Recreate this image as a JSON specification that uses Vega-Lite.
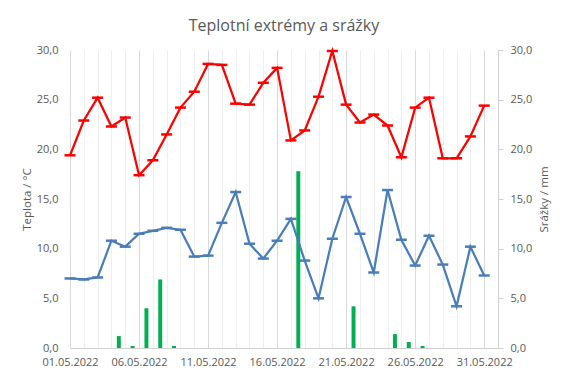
{
  "$schema": "https://vega.github.io/schema/vega-lite/v6.json",
  "width": 428,
  "height": 298,
  "autosize": {"type": "none"},
  "padding": {"left": 70, "top": 50, "right": 70, "bottom": 31},
  "title": {"text": "Teplotní extrémy a srážky", "fontSize": 16, "font": "Open Sans", "fontWeight": "normal", "color": "#595959", "anchor": "middle", "offset": -3, "baseline": "alphabetic"},
  "config": {
    "view": {"stroke": null},
    "font": "Open Sans",
    "axis": {"labelFont": "Open Sans", "labelFontSize": 11, "labelColor": "#595959", "titleFont": "Open Sans", "titleFontSize": 11.5, "titleFontWeight": "normal", "titleColor": "#595959", "domainColor": "#D0D0D0", "tickColor": "#D0D0D0", "labelOverlap": false, "labelFlush": false}
  },
  "data": {"values": [
    {"datum": "2022-05-01T00:00:00", "tmax": 19.4, "tmin": 7.0, "srazky": 0},
    {"datum": "2022-05-02T00:00:00", "tmax": 22.9, "tmin": 6.9, "srazky": 0},
    {"datum": "2022-05-03T00:00:00", "tmax": 25.2, "tmin": 7.1, "srazky": 0},
    {"datum": "2022-05-04T00:00:00", "tmax": 22.3, "tmin": 10.8, "srazky": 1.2},
    {"datum": "2022-05-05T00:00:00", "tmax": 23.2, "tmin": 10.2, "srazky": 0.2},
    {"datum": "2022-05-06T00:00:00", "tmax": 17.4, "tmin": 11.5, "srazky": 4.0},
    {"datum": "2022-05-07T00:00:00", "tmax": 18.9, "tmin": 11.8, "srazky": 6.9},
    {"datum": "2022-05-08T00:00:00", "tmax": 21.5, "tmin": 12.1, "srazky": 0.2},
    {"datum": "2022-05-09T00:00:00", "tmax": 24.2, "tmin": 11.9, "srazky": 0},
    {"datum": "2022-05-10T00:00:00", "tmax": 25.8, "tmin": 9.2, "srazky": 0},
    {"datum": "2022-05-11T00:00:00", "tmax": 28.6, "tmin": 9.3, "srazky": 0},
    {"datum": "2022-05-12T00:00:00", "tmax": 28.5, "tmin": 12.6, "srazky": 0},
    {"datum": "2022-05-13T00:00:00", "tmax": 24.6, "tmin": 15.7, "srazky": 0},
    {"datum": "2022-05-14T00:00:00", "tmax": 24.5, "tmin": 10.5, "srazky": 0},
    {"datum": "2022-05-15T00:00:00", "tmax": 26.7, "tmin": 9.0, "srazky": 0},
    {"datum": "2022-05-16T00:00:00", "tmax": 28.2, "tmin": 10.8, "srazky": 0},
    {"datum": "2022-05-17T00:00:00", "tmax": 20.9, "tmin": 13.0, "srazky": 17.8},
    {"datum": "2022-05-18T00:00:00", "tmax": 21.9, "tmin": 8.8, "srazky": 0},
    {"datum": "2022-05-19T00:00:00", "tmax": 25.3, "tmin": 5.0, "srazky": 0},
    {"datum": "2022-05-20T00:00:00", "tmax": 29.9, "tmin": 11.0, "srazky": 0},
    {"datum": "2022-05-21T00:00:00", "tmax": 24.5, "tmin": 15.2, "srazky": 4.2},
    {"datum": "2022-05-22T00:00:00", "tmax": 22.7, "tmin": 11.5, "srazky": 0},
    {"datum": "2022-05-23T00:00:00", "tmax": 23.5, "tmin": 7.6, "srazky": 0},
    {"datum": "2022-05-24T00:00:00", "tmax": 22.4, "tmin": 15.9, "srazky": 1.4},
    {"datum": "2022-05-25T00:00:00", "tmax": 19.2, "tmin": 10.9, "srazky": 0.6},
    {"datum": "2022-05-26T00:00:00", "tmax": 24.2, "tmin": 8.3, "srazky": 0.2},
    {"datum": "2022-05-27T00:00:00", "tmax": 25.2, "tmin": 11.3, "srazky": 0},
    {"datum": "2022-05-28T00:00:00", "tmax": 19.1, "tmin": 8.4, "srazky": 0},
    {"datum": "2022-05-29T00:00:00", "tmax": 19.1, "tmin": 4.2, "srazky": 0},
    {"datum": "2022-05-30T00:00:00", "tmax": 21.3, "tmin": 10.2, "srazky": 0},
    {"datum": "2022-05-31T00:00:00", "tmax": 24.4, "tmin": 7.3, "srazky": 0}
  ]},
  "layer": [
    {
      "mark": {"type": "bar", "color": "#00B050", "width": {"band": 0.36}},
      "encoding": {
        "x": {"field": "datum", "type": "temporal", "timeUnit": "yearmonthdate",
          "scale": {"domain": [{"year": 2022, "month": 5, "date": 1}, {"year": 2022, "month": 6, "date": 1}]},
          "axis": {"title": null, "tickCount": {"interval": "day", "step": 1}, "ticks": false, "labelPadding": 8,
            "labelExpr": "month(datum.value) === 4 && (date(datum.value) - 1) % 5 === 0 ? timeFormat(datum.value, '%d.%m.%Y') : ''",
            "gridColor": {"condition": {"test": "date(datum.value) % 5 === 1", "value": "#D9D9D9"}, "value": "#EFEFEF"}}},
        "y": {"field": "srazky", "type": "quantitative", "scale": {"domain": [0, 30]},
          "axis": {"orient": "right", "values": [0, 5, 10, 15, 20, 25, 30], "grid": false, "ticks": true, "tickSize": 5, "labelPadding": 7,
            "labelExpr": "replace(format(datum.value, '.1f'), '.', ',')", "title": "Srážky / mm", "titleAngle": 270, "titlePadding": 18}}
      }
    },
    {
      "mark": {"type": "line", "color": "#FF0000", "strokeWidth": 2.25,
        "point": {"shape": "stroke", "size": 121, "strokeWidth": 2.5, "filled": false, "color": "#FF0000", "opacity": 1}},
      "encoding": {
        "x": {"field": "datum", "type": "temporal"},
        "y": {"field": "tmax", "type": "quantitative", "scale": {"domain": [0, 30]},
          "axis": {"orient": "left", "values": [0,1,2,3,4,5,6,7,8,9,10,11,12,13,14,15,16,17,18,19,20,21,22,23,24,25,26,27,28,29,30],
            "ticks": false, "domain": false, "labelPadding": 12,
            "labelExpr": "datum.value % 5 === 0 ? replace(format(datum.value, '.1f'), '.', ',') : ''",
            "gridColor": {"condition": {"test": "datum.value % 5 === 0", "value": "#D9D9D9"}, "value": "#EFEFEF"},
            "title": "Teplota / °C", "titlePadding": 4}}
      }
    },
    {
      "mark": {"type": "line", "color": "#4A7EBB", "strokeWidth": 2.25,
        "point": {"shape": "stroke", "size": 121, "strokeWidth": 2.5, "filled": false, "color": "#4A7EBB", "opacity": 1}},
      "encoding": {
        "x": {"field": "datum", "type": "temporal"},
        "y": {"field": "tmin", "type": "quantitative", "scale": {"domain": [0, 30]}, "axis": null}
      }
    }
  ],
  "resolve": {"scale": {"y": "independent"}}
}
